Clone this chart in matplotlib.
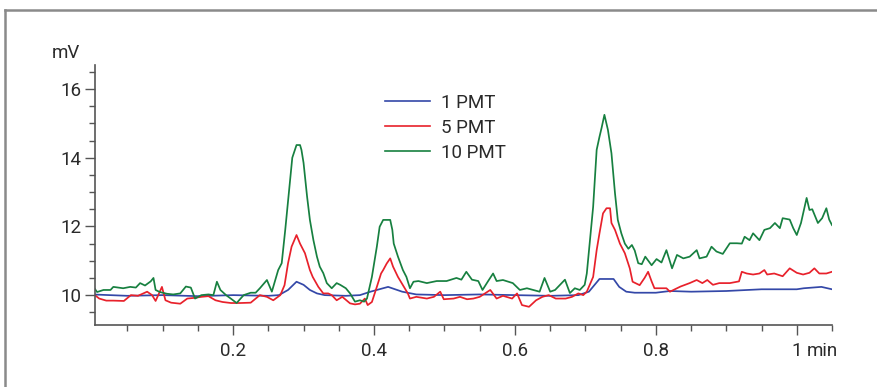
import matplotlib
matplotlib.use('Agg')
import matplotlib.pyplot as plt
from matplotlib.lines import Line2D
from matplotlib.ticker import MultipleLocator, FixedLocator

plt.rcParams['font.family'] = ['Roboto', 'DejaVu Sans']

# 10 PMT (green)
t_10 = [0.000, 0.007, 0.016, 0.026, 0.030, 0.044, 0.054, 0.062, 0.068, 0.075, 0.083, 0.087, 0.090,
        0.096, 0.106, 0.115, 0.125, 0.133, 0.140, 0.146, 0.155, 0.165, 0.172, 0.177, 0.182, 0.190,
        0.198, 0.205, 0.215, 0.225, 0.232, 0.238, 0.248, 0.255, 0.264, 0.269, 0.274, 0.281, 0.284,
        0.290, 0.295, 0.297, 0.300, 0.305, 0.309, 0.314, 0.319, 0.323, 0.328, 0.333, 0.340, 0.347,
        0.352, 0.360, 0.366, 0.373, 0.380, 0.386, 0.390, 0.397, 0.404, 0.408, 0.413, 0.423, 0.426,
        0.428, 0.434, 0.441, 0.446, 0.451, 0.456, 0.463, 0.475, 0.489, 0.503, 0.517, 0.524, 0.531,
        0.539, 0.548, 0.554, 0.562, 0.569, 0.574, 0.583, 0.597, 0.607, 0.617, 0.626, 0.635, 0.642,
        0.650, 0.657, 0.664, 0.671, 0.678, 0.685, 0.692, 0.699, 0.702, 0.706, 0.711, 0.716, 0.720,
        0.723, 0.727, 0.732, 0.737, 0.742, 0.746, 0.751, 0.756, 0.761, 0.766, 0.770, 0.775, 0.780,
        0.785, 0.794, 0.801, 0.808, 0.815, 0.823, 0.830, 0.839, 0.848, 0.858, 0.862, 0.872, 0.879,
        0.886, 0.895, 0.905, 0.915, 0.922, 0.926, 0.933, 0.938, 0.947, 0.954, 0.962, 0.969, 0.976,
        0.980, 0.990, 0.995, 1.000, 1.006, 1.014, 1.018, 1.022, 1.030, 1.036, 1.042, 1.046, 1.050]
v_10 = [10.29, 10.09, 10.15, 10.15, 10.24, 10.20, 10.24, 10.22, 10.35, 10.28, 10.40, 10.50, 10.15,
        10.09, 10.04, 10.02, 10.05, 10.25, 10.22, 9.90, 10.00, 10.02, 10.00, 10.39, 10.15, 10.00,
        9.88, 9.77, 10.00, 10.07, 10.07, 10.20, 10.44, 10.10, 10.73, 10.93, 11.90, 13.35, 14.00,
        14.37, 14.37, 14.23, 13.85, 12.87, 12.19, 11.60, 11.12, 10.83, 10.64, 10.35, 10.20, 10.35,
        10.30, 10.20, 10.05, 9.81, 9.85, 9.81, 9.90, 10.53, 11.41, 11.99, 12.19, 12.19, 11.90,
        11.50, 11.12, 10.73, 10.53, 10.20, 10.39, 10.41, 10.35, 10.41, 10.41, 10.50, 10.45, 10.68,
        10.45, 10.41, 10.15, 10.41, 10.63, 10.41, 10.44, 10.35, 10.15, 10.20, 10.15, 10.10, 10.50,
        10.10, 10.15, 10.30, 10.45, 10.06, 10.20, 10.15, 10.30, 10.63, 11.50, 12.57, 14.23, 14.61,
        14.87, 15.25, 14.81, 14.13, 12.97, 12.19, 11.80, 11.50, 11.35, 11.46, 11.30, 10.93, 10.90,
        11.12, 10.87, 11.05, 10.95, 11.31, 10.78, 11.17, 11.07, 11.12, 11.31, 11.07, 11.12, 11.41,
        11.27, 11.20, 11.51, 11.51, 11.50, 11.70, 11.60, 11.80, 11.60, 11.90, 11.95, 12.10, 11.95,
        12.24, 12.20, 11.95, 11.75, 12.10, 12.83, 12.48, 12.50, 12.10, 12.24, 12.53, 12.20, 12.04]

# 5 PMT (red)
t_5 = [0.000, 0.010, 0.020, 0.030, 0.045, 0.055, 0.065, 0.078, 0.085, 0.090, 0.099, 0.104, 0.112,
       0.125, 0.135, 0.145, 0.155, 0.165, 0.175, 0.185, 0.197, 0.210, 0.225, 0.238, 0.248, 0.257,
       0.267, 0.273, 0.278, 0.283, 0.290, 0.295, 0.302, 0.309, 0.313, 0.321, 0.328, 0.335, 0.340,
       0.347, 0.355, 0.366, 0.373, 0.380, 0.387, 0.391, 0.397, 0.404, 0.410, 0.413, 0.418, 0.423,
       0.427, 0.434, 0.441, 0.448, 0.451, 0.460, 0.475, 0.485, 0.494, 0.499, 0.513, 0.522, 0.532,
       0.541, 0.550, 0.565, 0.574, 0.583, 0.596, 0.603, 0.610, 0.620, 0.630, 0.639, 0.648, 0.658,
       0.672, 0.681, 0.690, 0.697, 0.702, 0.711, 0.716, 0.720, 0.725, 0.730, 0.735, 0.737, 0.742,
       0.749, 0.756, 0.763, 0.767, 0.777, 0.784, 0.789, 0.794, 0.798, 0.815, 0.820, 0.835, 0.848,
       0.858, 0.866, 0.873, 0.881, 0.890, 0.905, 0.918, 0.922, 0.929, 0.938, 0.947, 0.954, 0.958,
       0.968, 0.980, 0.990, 1.000, 1.009, 1.018, 1.025, 1.032, 1.042, 1.050]
v_5 = [10.06, 9.90, 9.84, 9.84, 9.83, 10.00, 9.98, 10.10, 10.00, 9.83, 10.24, 9.85, 9.78,
       9.75, 9.90, 9.92, 9.95, 9.97, 9.85, 9.80, 9.77, 9.77, 9.78, 10.00, 9.95, 9.85,
       10.00, 10.29, 10.93, 11.41, 11.75, 11.50, 11.22, 10.73, 10.53, 10.24, 10.05, 10.05, 10.00,
       9.85, 9.95, 9.76, 9.73, 9.75, 9.90, 9.71, 9.80, 10.24, 10.63, 10.73, 10.92, 11.07,
       10.83, 10.53, 10.29, 10.05, 9.90, 9.95, 9.90, 9.95, 10.10, 9.88, 9.90, 9.95, 9.88,
       9.90, 9.95, 10.15, 9.90, 9.98, 9.90, 10.05, 9.71, 9.66, 9.85, 9.95, 10.00, 9.90,
       9.90, 9.95, 10.05, 10.00, 10.10, 10.53, 11.31, 11.80, 12.38, 12.53, 12.53, 12.10, 11.90,
       11.50, 11.22, 10.78, 10.39, 10.29, 10.50, 10.68, 10.40, 10.20, 10.20, 10.10, 10.25, 10.35,
       10.44, 10.35, 10.44, 10.30, 10.35, 10.35, 10.40, 10.68, 10.63, 10.60, 10.63, 10.73, 10.60,
       10.63, 10.55, 10.78, 10.65, 10.60, 10.65, 10.78, 10.63, 10.63, 10.68]

# 1 PMT (blue)
t_1 = [0.000, 0.050, 0.100, 0.150, 0.200, 0.250, 0.265, 0.278, 0.290, 0.300, 0.309, 0.319, 0.330,
       0.360, 0.380, 0.395, 0.420, 0.440, 0.460, 0.500, 0.550, 0.600, 0.650, 0.690, 0.705, 0.720,
       0.740, 0.748, 0.758, 0.770, 0.800, 0.820, 0.850, 0.900, 0.950, 1.000, 1.010, 1.035, 1.050]
v_1 = [10.02, 9.98, 10.00, 9.97, 10.00, 9.98, 10.00, 10.15, 10.39, 10.30, 10.15, 10.05, 10.00,
       9.98, 10.00, 10.10, 10.24, 10.10, 10.02, 10.00, 10.02, 10.00, 9.98, 10.00, 10.10, 10.47,
       10.47, 10.24, 10.10, 10.07, 10.07, 10.12, 10.10, 10.12, 10.17, 10.17, 10.20, 10.24, 10.17]

series = [('1 PMT', t_1, v_1, '#3448a8'),
          ('5 PMT', t_5, v_5, '#e8212b'),
          ('10 PMT', t_10, v_10, '#178040')]

x_ticks = [0.2, 0.4, 0.6, 0.8, 1.0]
x_labels = ['0.2', '0.4', '0.6', '0.8', '1']
y_ticks = [10, 12, 14, 16]


def main():
    fig = plt.figure(figsize=(8.78, 3.87), dpi=100)
    ax = fig.add_axes([0.1082, 0.1602, 0.8394, 0.6718])

    for name, t, v, col in series:
        ax.plot(t, v, color=col, lw=1.25, label=name)

    ax.set_xlim(0.004, 1.05)
    ax.set_ylim(9.13, 16.7)

    ax.xaxis.set_major_locator(FixedLocator(x_ticks))
    ax.set_xticklabels(x_labels)
    ax.xaxis.set_minor_locator(MultipleLocator(0.05))
    ax.yaxis.set_major_locator(FixedLocator(y_ticks))
    ax.yaxis.set_minor_locator(MultipleLocator(0.5))

    for s in ['top', 'right']:
        ax.spines[s].set_visible(False)
    for s in ['left', 'bottom']:
        ax.spines[s].set_color('#555555')
        ax.spines[s].set_linewidth(1.2)
    ax.tick_params(which='major', length=7, width=1, color='#555555', labelsize=13.5,
                   labelcolor='#2a2a2a')
    ax.tick_params(which='minor', length=4, width=1, color='#555555')
    ax.tick_params(axis='x', which='major', pad=5)
    ax.tick_params(axis='y', which='major', pad=3)

    ax.text(-0.04, 1.01, 'mV', transform=ax.transAxes, fontsize=13.5, color='#2a2a2a',
            ha='center', va='bottom')
    ax.annotate('min', xy=(1.0, 0), xycoords=('data', 'axes fraction'), xytext=(7, -12.5),
                textcoords='offset points', fontsize=13.5, color='#2a2a2a', ha='left', va='top')

    handles = [Line2D([], [], color=c, lw=1.2) for _, _, _, c in series]
    ax.legend(handles, [n for n, _, _, _ in series], loc='upper left',
              bbox_to_anchor=(0.37, 0.955), frameon=False, fontsize=13.5, handlelength=2.4,
              handletextpad=0.6, labelspacing=0.38, labelcolor='#2a2a2a')

    # grey frame around the figure
    fig.add_artist(Line2D([0.0057, 1.0], [0.974, 0.974], transform=fig.transFigure,
                          color='#8a8a8a', lw=1.8))
    fig.add_artist(Line2D([0.0057, 0.0057], [0.0, 0.974], transform=fig.transFigure,
                          color='#8a8a8a', lw=1.8))

    fig.savefig('out.png', dpi=100)


if __name__ == '__main__':
    main()
